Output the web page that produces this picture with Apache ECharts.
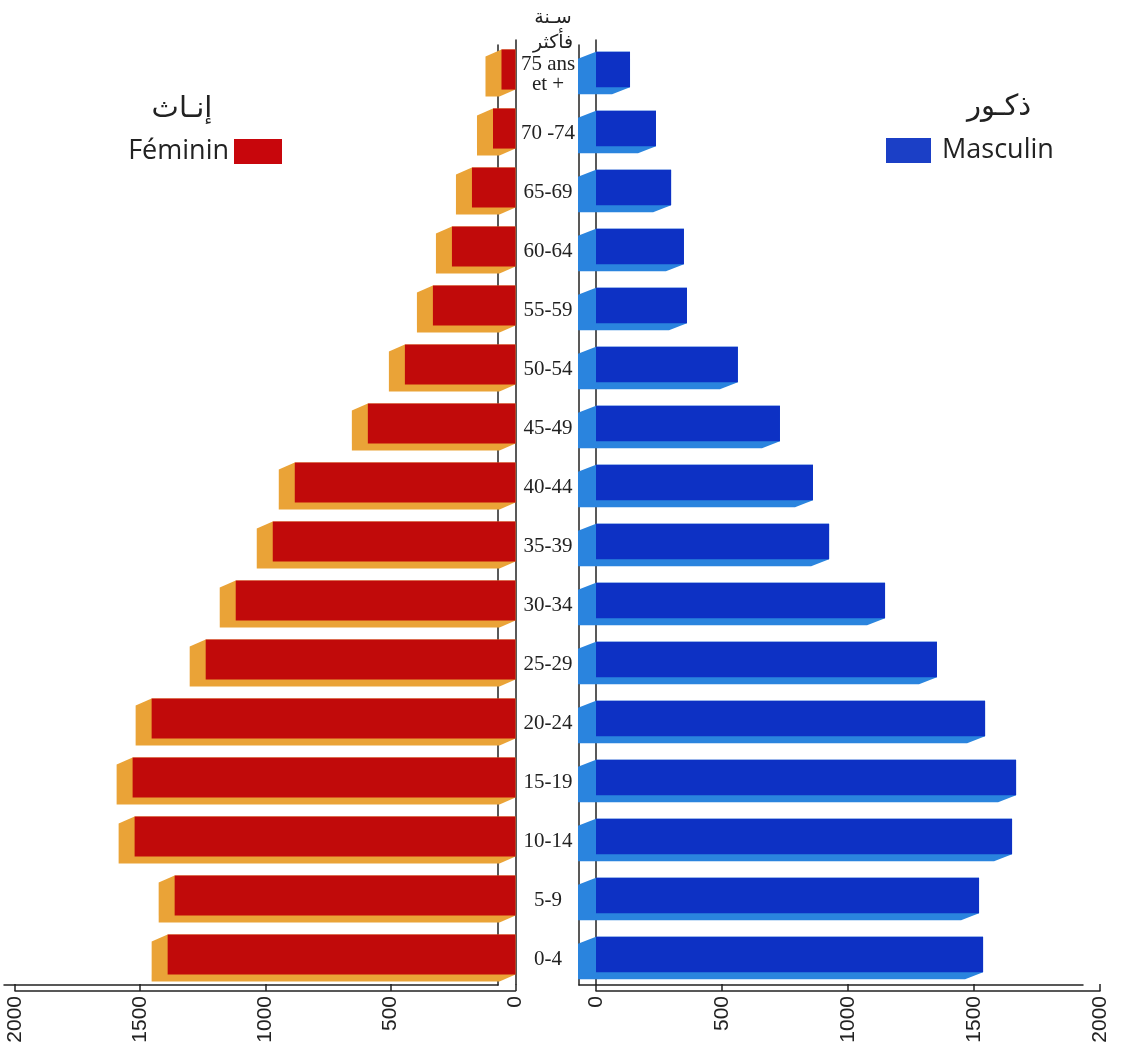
<!DOCTYPE html>
<html>
<head>
<meta charset="utf-8">
<script src="https://cdn.jsdelivr.net/npm/echarts@6/dist/echarts.min.js"></script>
<style>
  html, body { margin: 0; padding: 0; background: #fff; }
  #chart { width: 1122px; height: 1043px; }
</style>
</head>
<body>
<div id="chart"></div>
<script>
// tranches d'age, de bas en haut
const ageGroups = ['0-4', '5-9', '10-14', '15-19', '20-24', '25-29', '30-34', '35-39',
  '40-44', '45-49', '50-54', '55-59', '60-64', '65-69', '70 -74', '75 ans\net +'];
const feminin = [1390, 1362, 1522, 1530, 1454, 1238, 1118, 970, 882, 590, 442, 330, 254, 174, 90, 56];
const masculin = [1536, 1520, 1651, 1667, 1544, 1353, 1147, 925, 861, 730, 563, 361, 349, 298, 238, 135];
const axisMax = 2000;
const axisStep = 500;

const lineStyle = { color: '#222', width: 1.5 };

// barre "3D" : face avant + face laterale decalee
function render3d(front, side, dx, dy, up, down) {
  return function (params, api) {
    const c = api.value(1);
    const a = api.coord([0, c]);
    const b = api.coord([api.value(0), c]);
    const band = api.size([0, 1])[1];
    const L = Math.min(a[0], b[0]), R = Math.max(a[0], b[0]);
    const T = a[1] - band * up, B = a[1] + band * down;
    return {
      type: 'group',
      children: [
        { type: 'polygon', shape: { points: [[L, T], [L + dx, T + dy], [L + dx, B + dy], [R + dx, B + dy], [R, B], [R, T]] }, style: { fill: side } },
        { type: 'rect', shape: { x: L, y: T, width: R - L, height: B - T }, style: { fill: front } }
      ]
    };
  };
}

function valueAxis(grid, inverse, extra) {
  return Object.assign({
    gridIndex: grid, type: 'value', position: 'bottom', inverse: inverse, min: 0, max: axisMax, interval: axisStep,
    axisLine: { show: false }, axisTick: { show: false }, axisLabel: { show: false }, splitLine: { show: false }
  }, extra || {});
}

function wallAxis(grid, pos) {
  return { gridIndex: grid, type: 'category', data: ageGroups, position: pos,
    axisLine: { show: true, onZero: false, lineStyle: lineStyle }, axisTick: { show: false }, axisLabel: { show: false } };
}

const frontAxis = {
  offset: 7,
  axisLine: { show: true, onZero: false, lineStyle: lineStyle },
  axisTick: { show: true, inside: true, length: 7, lineStyle: lineStyle },
  axisLabel: { show: true, rotate: 90, margin: 5, fontSize: 21, fontFamily: 'Liberation Sans', color: '#222',
    formatter: v => String(v) }
};
const backAxis = { axisLine: { show: true, onZero: false, lineStyle: lineStyle } };

const chart = echarts.init(document.getElementById('chart'));
chart.setOption({
  backgroundColor: '#fff',
  animation: false,
  title: [
    { text: 'سـنة\nفأكثر', left: 548, top: 1, textAlign: 'center',
      textStyle: { fontSize: 19, fontWeight: 'normal', fontFamily: 'DejaVu Sans', color: '#222', lineHeight: 25 } },
    { text: 'إنـاث', left: 177, top: 90, textAlign: 'center',
      textStyle: { fontSize: 29, fontWeight: 'normal', fontFamily: 'DejaVu Sans', color: '#222' } },
    { text: 'ذكـور', left: 994, top: 88, textAlign: 'center',
      textStyle: { fontSize: 29, fontWeight: 'normal', fontFamily: 'DejaVu Sans', color: '#222' } }
  ],
  legend: [
    { data: ['Féminin'], right: 835, top: 133, align: 'right', icon: 'rect', itemWidth: 48, itemHeight: 25,
      textStyle: { fontSize: 27, fontFamily: 'Open Sans', color: '#222' } },
    { data: ['Masculin'], left: 881, top: 132, align: 'left', icon: 'rect', itemWidth: 45, itemHeight: 25,
      textStyle: { fontSize: 27, fontFamily: 'Open Sans', color: '#222', padding: [0, 0, 0, 6] } }
  ],
  grid: [
    { left: 15, right: 606.5, top: 40, bottom: 59, outerBoundsMode: 'none' },
    { left: 596, right: 22, top: 40, bottom: 59, outerBoundsMode: 'none' },
    { left: 4, right: 624, top: 45, bottom: 58, outerBoundsMode: 'none' },
    { left: 579, right: 39, top: 45, bottom: 58, outerBoundsMode: 'none' },
    // grille des etiquettes d'age, un peu plus basse que les barres
    { left: 596, right: 22, top: 45, bottom: 54, outerBoundsMode: 'none' }
  ],
  xAxis: [
    valueAxis(0, true),
    valueAxis(0, true, frontAxis),
    valueAxis(1, false),
    valueAxis(1, false, frontAxis),
    valueAxis(2, true, backAxis),
    valueAxis(3, false, backAxis),
    valueAxis(4, false)
  ],
  yAxis: [
    wallAxis(0, 'right'),
    wallAxis(1, 'left'),
    wallAxis(2, 'right'),
    wallAxis(3, 'left'),
    { gridIndex: 4, type: 'category', data: ageGroups, position: 'left',
      axisLine: { show: false }, axisTick: { show: false },
      axisLabel: { show: true, align: 'center', margin: 48, fontSize: 21, lineHeight: 20,
        fontFamily: 'Liberation Serif', color: '#222' } }
  ],
  series: [
    { name: 'Féminin', type: 'custom', xAxisIndex: 0, yAxisIndex: 0,
      itemStyle: { color: '#c8060c' },
      encode: { x: 0, y: 1 },
      renderItem: render3d('#c10a0a', '#eaa337', -16, 7, 0.34, 0.34),
      data: feminin.map((v, i) => [v, i]) },
    { name: 'Masculin', type: 'custom', xAxisIndex: 2, yAxisIndex: 1,
      itemStyle: { color: '#1b3fc6' },
      encode: { x: 0, y: 1 },
      renderItem: render3d('#0d31c4', '#2a84de', -18, 7, 0.3, 0.3),
      data: masculin.map((v, i) => [v, i]) }
  ]
});
</script>
</body>
</html>
